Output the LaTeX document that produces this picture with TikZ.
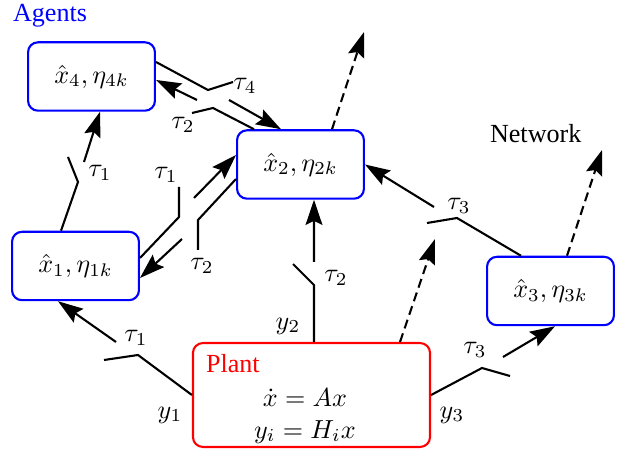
\documentclass[tikz,border=0pt]{standalone}
\usepackage{amsmath}
\usepackage[no-math]{fontspec}
\setmainfont{Liberation Serif}
\usepackage{tikz}
\usetikzlibrary{arrows.meta}
\usetikzlibrary{calc}
\tikzset{>={Stealth[length=9.6pt,width=6.4pt,inset=1.5pt]}}
\tikzset{agent/.style={draw=blue, line width=0.8pt, rounded corners=3.8pt, minimum width=48.6pt, minimum height=26.2pt, inner sep=0pt}}
\tikzset{plantbox/.style={draw=red, line width=0.8pt, rounded corners=3.8pt, minimum width=90.8pt, minimum height=39.8pt}}
\tikzset{netarrow/.style={->, dash pattern=on 3.5pt off 2pt}}
\newcommand{\swlink}[6]{% {name}{from}{pivot}{blade}{arrow start}{to}
	\coordinate (#1-piv) at (#3);
	\coordinate (#1-bld) at (#4);
	\coordinate (#1-arr) at (#5);
	\draw (#2) -- (#1-piv) -- (#1-bld); % wire + open switch
	\draw [->] (#1-arr) -- (#6) % arrow
}

\begin{document}
\begin{tikzpicture}[x=3.83pt, y=-3.83pt, line width=0.8pt]
				\useasboundingbox (0,0) rectangle (62.4,45.4);
				\node[agent] (x4) at (9.15,7.65) {$\hat{x}_4, \eta_{4k}$};
				\node[agent] (x2) at (30.05,16.45) {$\hat{x}_2, \eta_{2k}$};
				\node[agent] (x1) at (7.55,26.6) {$\hat{x}_1, \eta_{1k}$};
				\node[agent] (x3) at (55.05,29.1) {$\hat{x}_3, \eta_{3k}$};
				\node[plantbox] (plant) at (31.15,39.5) {};
				\node[red, anchor=base west, inner sep=0pt] (plantname) at (20.5,37.3) {Plant};
				\node[align=center, inner sep=0pt] (planteq) at (30.5,41.6) {$\dot{x} = Ax$\\$y_i = H_i x$};
				\node[blue, anchor=base west, inner sep=0pt] (agents) at (1.2,2.2) {Agents};
				\node[anchor=base west, inner sep=0pt] (network) at (48.9,14.3) {Network};

				% links with switches
				\swlink{l1}{plant.west}{13.8,35.5}{10.4,36.0}{11.6,34.2}{$(x1.south)+(-1.75,0)$};
				\swlink{l2}{$(plant.north)+(0.25,0)$}{31.4,28.5}{29.3,26.4}{31.4,26.2}{$(x2.south)+(1.35,0)$};
				\swlink{l3}{plant.east}{48.2,36.8}{51.0,37.6}{50.3,35.7}{$(x3.south)+(0.45,0)$};
				\swlink{l4}{$(x3.north)+(-2.95,0)$}{45.7,21.8}{42.7,22.3}{43.4,20.7}{x2.east};
				\swlink{l5}{$(x1.north)+(-1.45,0)$}{7.8,18.2}{6.8,15.7}{8.4,16.2}{$(x4.south)+(0.85,0)$};
				\swlink{l6}{$(x1.east)+(0,-0.8)$}{17.9,21.7}{17.9,18.7}{19.4,19.8}{$(x2.west)+(0,-0.95)$};
				\swlink{l7}{$(x2.west)+(0,1.45)$}{19.8,22.0}{19.8,25.0}{18.2,23.9}{$(x1.east)+(0,1.2)$};
				\swlink{l8}{$(x4.east)+(0,-1.45)$}{20.8,9.0}{23.3,8.2}{22.9,10.0}{$(x2.north)+(-1.95,0)$};
				\swlink{l9}{$(x2.north)+(-4.65,0)$}{21.3,10.8}{19.2,11.3}{19.7,10.0}{$(x4.east)+(0,0.35)$};

				% to the network
				\coordinate (up1) at (43.5,23.9);
				\coordinate (up2) at (36.4,3.2);
				\coordinate (up3) at (60.2,15.0);
				\draw[netarrow] ($(plant.north)+(8.85,0)$) -- (up1);
				\draw[netarrow] ($(x2.north)+(3.15,0)$) -- (up2);
				\draw[netarrow] ($(x3.north)+(1.65,0)$) -- (up3);

				\node (tau1a) at (13.6,33.8) {$\tau_1$};
				\node (y1) at (17.0,41.5) {$y_1$};
				\node (tau2a) at (33.6,27.8) {$\tau_2$};
				\node (y2) at (28.8,32.6) {$y_2$};
				\node (tau3a) at (47.5,35.0) {$\tau_3$};
				\node (y3) at (45.2,41.5) {$y_3$};
				\node (tau3b) at (45.9,20.6) {$\tau_3$};
				\node (tau1b) at (10.0,17.3) {$\tau_1$};
				\node (tau1c) at (16.6,17.5) {$\tau_1$};
				\node (tau2b) at (20.2,26.6) {$\tau_2$};
				\node (tau4) at (24.5,8.6) {$\tau_4$};
				\node (tau2c) at (18.3,12.5) {$\tau_2$};
\end{tikzpicture}
\end{document}
